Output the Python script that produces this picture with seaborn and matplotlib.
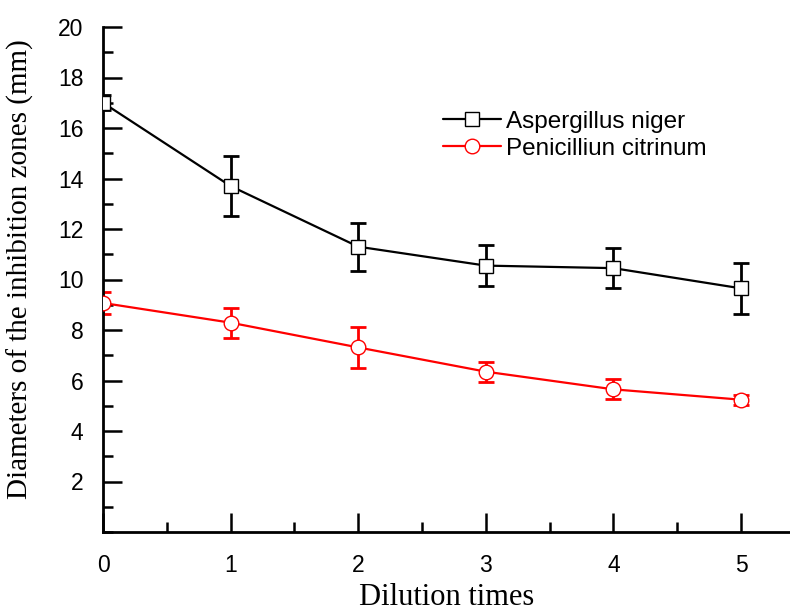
import matplotlib
matplotlib.use("Agg")
import matplotlib.pyplot as plt
import seaborn as sns
import pandas as pd
from matplotlib.ticker import MultipleLocator

# valores
dilution = [0, 1, 2, 3, 4, 5]
aspergillus = [17.0, 13.7, 11.3, 10.55, 10.45, 9.65]
aspergillus_err = [0.3, 1.2, 0.95, 0.8, 0.8, 1.0]
penicillium = [9.07, 8.29, 7.31, 6.35, 5.65, 5.24]
penicillium_err = [0.45, 0.6, 0.8, 0.4, 0.4, 0.2]

names = ["Aspergillus niger", "Penicilliun citrinum"]
colors = {"Aspergillus niger": "black", "Penicilliun citrinum": "red"}
markers = {"Aspergillus niger": "s", "Penicilliun citrinum": "o"}

df = pd.concat([
    pd.DataFrame({"Dilution": dilution, "Diameter": aspergillus, "Err": aspergillus_err, "Fungus": names[0]}),
    pd.DataFrame({"Dilution": dilution, "Diameter": penicillium, "Err": penicillium_err, "Fungus": names[1]}),
], ignore_index=True)

sns.set_style("ticks")
plt.rcParams['font.family'] = ['Liberation Sans', 'DejaVu Sans']
plt.rcParams['text.color'] = 'black'
plt.rcParams['xtick.color'] = 'black'
plt.rcParams['ytick.color'] = 'black'
plt.rcParams['axes.labelcolor'] = 'black'
plt.rcParams['axes.edgecolor'] = 'black'

fig = plt.figure(figsize=(7.9, 6.13), dpi=100)
ax = fig.add_axes([103 / 790, 81 / 613, 687 / 790, 505 / 613])

sns.lineplot(data=df, x="Dilution", y="Diameter", hue="Fungus", style="Fungus",
             palette=colors, markers=markers, dashes=False, ax=ax,
             markersize=10.5, markerfacecolor="white", markeredgewidth=1.0,
             linewidth=1.6, zorder=3)

for line in ax.lines:
    line.set_markeredgecolor(line.get_color())

# barras de error
for name in names:
    sub = df[df["Fungus"] == name]
    ax.errorbar(sub["Dilution"], sub["Diameter"], yerr=sub["Err"], fmt="none",
                ecolor=colors[name], elinewidth=2, capsize=6, capthick=2, zorder=2)

ax.set_xlim(0, 687 / 127.6)
ax.set_ylim(0, 20)
ax.xaxis.set_major_locator(MultipleLocator(1))
ax.xaxis.set_minor_locator(MultipleLocator(0.5))
ax.yaxis.set_minor_locator(MultipleLocator(1))
ax.set_yticks([2, 4, 6, 8, 10, 12, 14, 16, 18, 20])
ax.tick_params(which="major", direction="in", length=14, width=1.8, labelsize=16.5)
ax.tick_params(which="minor", direction="in", length=7, width=1.8)
ax.tick_params(axis="x", pad=16)
ax.tick_params(axis="y", pad=14)

sns.despine(ax=ax)
for s in ["left", "bottom"]:
    ax.spines[s].set_linewidth(2)

ax.set_xlabel("Dilution times", family=["Liberation Serif", "DejaVu Serif"], fontsize=22, labelpad=4)
ax.set_ylabel("Diameters of the inhibition zones (mm)", family=["Liberation Serif", "DejaVu Serif"],
              fontsize=21)
ax.yaxis.set_label_coords(-0.1, 0.52)

leg = ax.legend(loc="upper left", bbox_to_anchor=(433 / 790, 1 - 101 / 613),
                bbox_transform=fig.transFigure, frameon=False, fontsize=17.5,
                handlelength=2.4, handletextpad=0.2, labelspacing=0.2, borderaxespad=0)
for h in leg.legend_handles:
    h.set_markerfacecolor("white")
    h.set_markeredgecolor(h.get_color())

fig.savefig("out.png", dpi=100)
